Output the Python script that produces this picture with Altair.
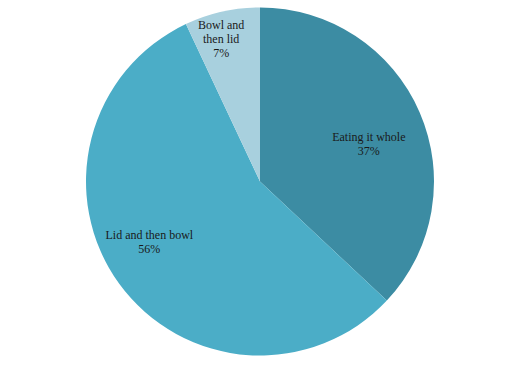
import altair as alt
import pandas as pd

categories = ["Eating it whole", "Lid and then bowl", "Bowl and then lid"]
shares = [37, 56, 7]
labels = ["Eating it whole\n37%", "Lid and then bowl\n56%", "Bowl and\nthen lid\n7%"]
colors = ["#3c8ca3", "#4badc7", "#a8d0de"]

df = pd.DataFrame({"cat": categories, "share": shares, "label": labels, "order": [0, 1, 2]})

arcs = alt.Chart(df).mark_arc(radius=174).encode(
    theta=alt.Theta("share:Q", stack=True),
    order=alt.Order("order:Q"),
    color=alt.Color("cat:N", scale=alt.Scale(domain=categories, range=colors), legend=None),
)

def txt(cat, r, toff):
    return alt.Chart(df).transform_window(
        cum="sum(share)", sort=[alt.SortField("order")]
    ).transform_calculate(
        mid="datum.cum - datum.share / 2"
    ).transform_filter(alt.datum.cat == cat).mark_text(
        radius=r, thetaOffset=toff, dy=-7, font="Liberation Serif", fontSize=12,
        color="#1a1a1a", lineBreak="\n", align="center", baseline="middle"
    ).encode(
        theta=alt.Theta("mid:Q", stack=None, scale=alt.Scale(domain=[0, 100], range=[0, 6.283185])),
        text="label:N",
    )

chart = alt.layer(
    arcs,
    txt("Eating it whole", 115, 0.08),
    txt("Lid and then bowl", 126, 0.13),
    txt("Bowl and then lid", 154, -0.035),
).resolve_scale(theta="independent").properties(
    width=520, height=363, padding=0, autosize="none"
).configure_view(stroke=None)

chart.save("out.html", embed_options={"renderer": "svg", "actions": False})
